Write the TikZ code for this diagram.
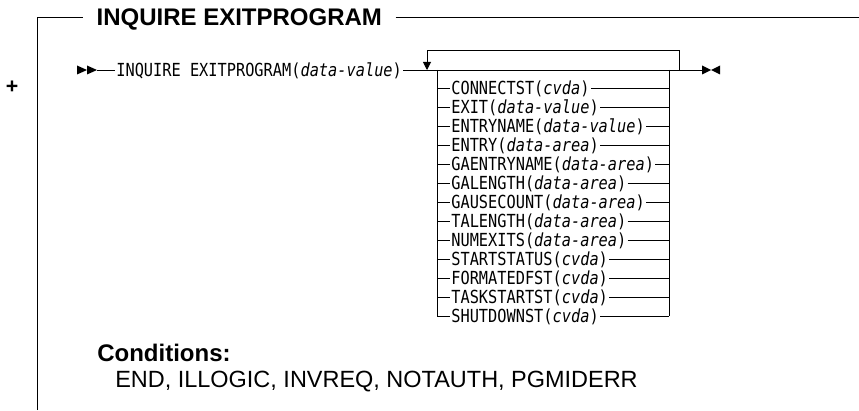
\documentclass[tikz,border=0pt]{standalone}
\usepackage{fontspec}
\setmainfont{Liberation Sans}
\newfontfamily\synfont[FakeStretch=0.85]{DejaVu Sans Mono}
\usepackage{tikz}
\usetikzlibrary{arrows.meta,positioning}

\tikzset{
  synline/.style={line width=0.7pt, black},
  syntext/.style={font=\synfont\fontsize{13.5pt}{15pt}\selectfont, inner xsep=0.8pt, inner ysep=0pt, text height=9.8pt, text depth=0pt},
  headtext/.style={font=\bfseries\fontsize{18pt}{20pt}\selectfont, inner sep=0pt},
  bodytext/.style={font=\fontsize{17.6pt}{20pt}\selectfont, inner sep=0pt},
  looparrow/.style={synline, -{Triangle[length=6pt,width=6pt]}},
}

\begin{document}
\begin{tikzpicture}[x=0.75pt, y=-0.75pt]
  \useasboundingbox (0,0) rectangle (859,410);
  % frame with heading
  \node[headtext, anchor=west, inner xsep=10pt, text height=12.9pt, text depth=0pt] (ttl) at (83,17) {INQUIRE EXITPROGRAM};
  \coordinate (fbot) at (37,410);
  \coordinate (fend) at (859,17);
  \draw[synline] (fbot) |- (ttl.west);
  \draw[synline] (ttl.east) -- (fend);
  \node[headtext, font=\bfseries\fontsize{16pt}{18pt}\selectfont] (plus) at (12,87) {+};
  % main line
  \node[syntext, anchor=west] (cmd) at (115,70) {INQUIRE EXITPROGRAM(\textit{data-value})};
  \coordinate (st) at (97,70);
  \coordinate (lpl) at (427,70);
  \coordinate (bxl) at (437,70);
  \coordinate (bxr) at (669,70);
  \coordinate (lpr) at (679,70);
  \coordinate (en) at (702,70);
  \fill (77,65.5) -- (87,70) -- (77,74.5) -- cycle;
  \fill (87,65.5) -- (97,70) -- (87,74.5) -- cycle;
  \draw[synline] (st) -- (cmd.west);
  \draw[synline] (cmd.east) -- (en);
  \fill (702,65.5) -- (711,70) -- (702,74.5) -- cycle;
  \fill (720,65.5) -- (711,70) -- (720,74.5) -- cycle;
  % repeat loop
  \draw[looparrow] (lpr) -- ++(0,-20) -| (lpl);
  % options
  \foreach \kw/\arg [count=\i] in {CONNECTST/cvda, EXIT/data-value, ENTRYNAME/data-value,
      ENTRY/data-area, GAENTRYNAME/data-area, GALENGTH/data-area, GAUSECOUNT/data-area,
      TALENGTH/data-area, NUMEXITS/data-area, STARTSTATUS/cvda, FORMATEDFST/cvda,
      TASKSTARTST/cvda, SHUTDOWNST/cvda} {
    \coordinate (a\i) at (437,{69+19*\i});
    \coordinate (b\i) at (669,{69+19*\i});
    \node[syntext, anchor=west] (r\i) at (450,{69+19*\i}) {\kw(\textit{\arg})};
    \draw[synline] (a\i) -- (r\i.west);
    \draw[synline] (r\i.east) -- (b\i);
  }
  \draw[synline] (bxl) -- (a13);
  \draw[synline] (bxr) -- (b13);
  % conditions
  \node[headtext, anchor=base west] (cnd) at (97,361) {Conditions:};
  \node[bodytext, anchor=base west] (cls) at (115,387) {END, ILLOGIC, INVREQ, NOTAUTH, PGMIDERR};
\end{tikzpicture}
\end{document}
